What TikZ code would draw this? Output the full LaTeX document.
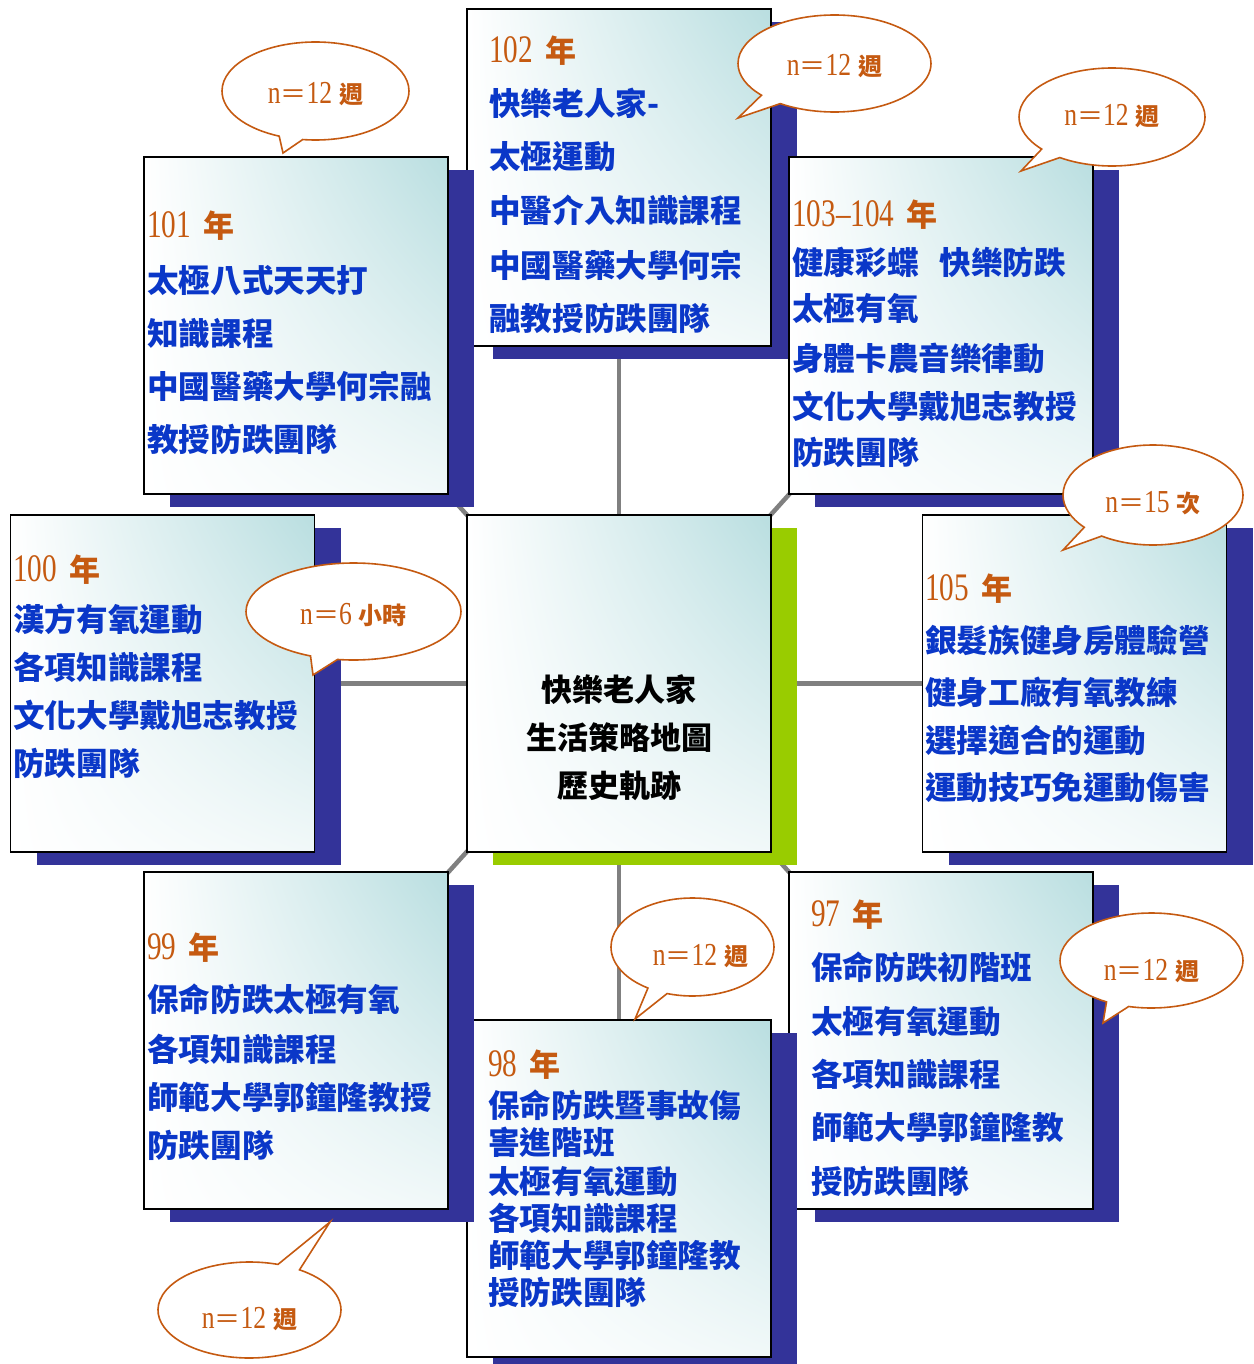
\documentclass[tikz,border=0pt]{standalone}
\usepackage{fontspec}
\usepackage{graphicx}
\setmainfont{Liberation Serif}
\newfontfamily\cjk{Noto Sans CJK TC}
\usetikzlibrary{shapes.callouts,shadows,backgrounds,shadings}
\definecolor{yearc}{RGB}{197,90,17}
\definecolor{txtb}{RGB}{10,55,200}
\definecolor{boxteal}{RGB}{185,222,224}
\definecolor{shb}{RGB}{51,51,153}
\definecolor{grn}{RGB}{153,204,0}
\definecolor{conn}{RGB}{128,128,128}
\newcommand\yrnum[1]{\scalebox{0.75}[1]{\fontsize{39}{39}\selectfont #1}}
\newcommand\yr[1]{\yrnum{#1}\hspace{12pt}{\cjk\bfseries\fontsize{31}{31}\selectfont 年}}
\newcommand\nlab[2]{\scalebox{0.8}[1]{\fontsize{32}{32}\selectfont n}{\cjk\fontsize{26}{26}\selectfont ＝}\scalebox{0.8}[1]{\fontsize{32}{32}\selectfont #1}\hspace{7pt}{\cjk\bfseries\fontsize{24}{24}\selectfont #2}}
\newcommand\blab[3]{\raisebox{-#1pt}[0pt][0pt]{#2}}
\tikzset{
  boxbase/.style={draw=black, line width=1.5pt, minimum width=304pt, minimum height=337pt, inner sep=0pt,
    upper right=boxteal, upper left=white, lower left=white, lower right=white!80!boxteal},
  box/.style={boxbase, drop shadow={shadow xshift=26pt, shadow yshift=-13pt, fill=shb, opacity=1}},
  cbox/.style={boxbase, drop shadow={shadow xshift=26pt, shadow yshift=-13pt, fill=grn, opacity=1}},
  connline/.style={draw=conn, line width=4.5pt},
  yearline/.style={anchor=base west, inner sep=0pt, text=yearc},
  bline/.style={anchor=base west, inner sep=0pt, text=txtb, font=\cjk\bfseries\fontsize{31.6}{31.6}\selectfont},
  cline/.style={anchor=base, inner sep=0pt, text=black, font=\cjk\bfseries\fontsize{31}{31}\selectfont},
  bubble/.style={ellipse callout, draw=yearc, line width=1.6pt, fill=white, text=yearc, inner sep=0pt}
}
\begin{document}
\begin{tikzpicture}[x=1pt,y=-1pt]
\clip (0,0) rectangle (1253,1364);
% boxes (drawing order matters for overlaps)
\node[box] (b97) at (941,1040.5) {};
\node[box] (b98) at (619,1188.5) {};
\node[box] (b99) at (296,1040.5) {};
\node[box] (b100) at (162.5,683.5) {};
\node[box] (b102) at (619,177.5) {};
\node[box] (b101) at (296,325.5) {};
\node[box] (b103) at (941,325.5) {};
\node[box] (b105) at (1074.5,683.5) {};
\node[cbox] (ctr) at (619,683.5) {};
% connectors behind everything
\begin{scope}[on background layer]
\foreach \b in {b97,b98,b99,b100,b101,b102,b103,b105}
  \draw[connline] (ctr.center) -- (\b.center);
\end{scope}
% box 101
\node[yearline] (y101) at (147,238) {\yr{101}};
\foreach \s/\yy [count=\i] in {太極八式天天打/292, 知識課程/345, 中國醫藥大學何宗融/398, 教授防跌團隊/451}
  \node[bline] (t101-\i) at (147,\yy) {\s};
% box 102
\node[yearline] (y102) at (489,63) {\yr{102}};
\foreach \s/\yy [count=\i] in {快樂老人家-/116, 太極運動/169, 中醫介入知識課程/223, 中國醫藥大學何宗/277, 融教授防跌團隊/330}
  \node[bline] (t102-\i) at (489,\yy) {\s};
% box 103-104
\node[yearline] (y103) at (792,227) {\yr{103--104}};
\foreach \s/\yy [count=\i] in {健康彩蝶\hspace{21pt}快樂防跌/274, 太極有氧/320, 身體卡農音樂律動/370, 文化大學戴旭志教授/418, 防跌團隊/464}
  \node[bline] (t103-\i) at (792,\yy) {\s};
% box 100
\node[yearline] (y100) at (13,581) {\yr{100}};
\foreach \s/\yy [count=\i] in {漢方有氧運動/631, 各項知識課程/679, 文化大學戴旭志教授/727, 防跌團隊/775}
  \node[bline] (t100-\i) at (13,\yy) {\s};
% box 105
\node[yearline] (y105) at (925,600) {\yr{105}};
\foreach \s/\yy [count=\i] in {銀髮族健身房體驗營/652, 健身工廠有氧教練/704, 選擇適合的運動/752, 運動技巧免運動傷害/799}
  \node[bline] (t105-\i) at (925,\yy) {\s};
% center
\foreach \s/\yy [count=\i] in {快樂老人家/701, 生活策略地圖/749, 歷史軌跡/797}
  \node[cline] (tc-\i) at (619,\yy) {\s};
% box 99
\node[yearline] (y99) at (147,959) {\yr{99}};
\foreach \s/\yy [count=\i] in {保命防跌太極有氧/1011, 各項知識課程/1061, 師範大學郭鐘隆教授/1109, 防跌團隊/1157}
  \node[bline] (t99-\i) at (147,\yy) {\s};
% box 98
\node[yearline] (y98) at (488,1076) {\yr{98}};
\foreach \s/\yy [count=\i] in {保命防跌暨事故傷/1117, 害進階班/1154, 太極有氧運動/1193, 各項知識課程/1230, 師範大學郭鐘隆教/1267, 授防跌團隊/1304}
  \node[bline] (t98-\i) at (488,\yy) {\s};
% box 97
\node[yearline] (y97) at (811,926) {\yr{97}};
\foreach \s/\yy [count=\i] in {保命防跌初階班/979, 太極有氧運動/1033, 各項知識課程/1086, 師範大學郭鐘隆教/1139, 授防跌團隊/1193}
  \node[bline] (t97-\i) at (811,\yy) {\s};
% callout pointers
\coordinate (p101) at (283,153);
\coordinate (p102) at (738,118);
\coordinate (p103) at (1021,171);
\coordinate (p105) at (1063,550);
\coordinate (p100) at (313,675);
\coordinate (p98) at (635,1019);
\coordinate (p97) at (1103,1023);
\coordinate (p99) at (330,1222);
% callouts
\node[bubble, minimum width=187pt, minimum height=98pt, callout absolute pointer={(p101)}] (c101) at (315.5,91) {\blab{12.5}{\nlab{12}{週}}{}};
\node[bubble, minimum width=193pt, minimum height=97pt, callout absolute pointer={(p102)}] (c102) at (834.5,63.5) {\blab{12}{\nlab{12}{週}}{}};
\node[bubble, minimum width=186pt, minimum height=98pt, callout absolute pointer={(p103)}] (c103) at (1112,117) {\blab{8.5}{\nlab{12}{週}}{}};
\node[bubble, minimum width=180pt, minimum height=100pt, callout absolute pointer={(p105)}] (c105) at (1153,495) {\blab{17.5}{\nlab{15}{次}}{}};
\node[bubble, minimum width=215pt, minimum height=97pt, callout absolute pointer={(p100)}] (c100) at (353.5,611.5) {\blab{13}{\nlab{6}{小時}}{}};
\node[bubble, minimum width=163pt, minimum height=98pt, callout absolute pointer={(p98)}] (c98) at (692.5,947) {\blab{18.5}{\hspace{16pt}\nlab{12}{週}}{}};
\node[bubble, minimum width=183pt, minimum height=95pt, callout absolute pointer={(p97)}] (c97) at (1151.5,960.5) {\blab{20}{\nlab{12}{週}}{}};
\node[bubble, minimum width=183pt, minimum height=96pt, callout absolute pointer={(p99)}] (c99) at (249.5,1310) {\blab{18.5}{\nlab{12}{週}}{}};
\end{tikzpicture}
\end{document}
